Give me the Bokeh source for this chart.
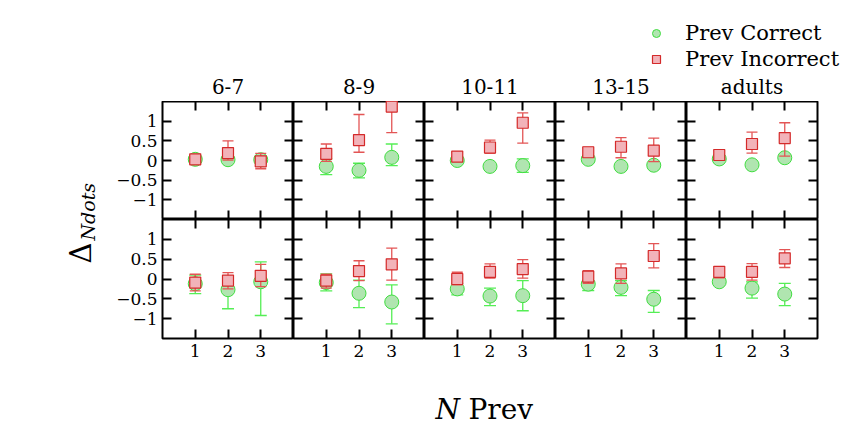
from math import pi
from bokeh.plotting import figure
from bokeh.models import (ColumnDataSource, Whisker, TeeHead, LinearAxis, FixedTicker,
                          Range1d, Label, Legend, LegendItem)
from bokeh.core.properties import value
from bokeh.layouts import row, column, gridplot
from bokeh.embed import file_html
from bokeh.resources import INLINE

groups = ["6-7", "8-9", "10-11", "13-15", "adults"]
n_prev = [1, 2, 3]
y_ticks = [-1, -0.5, 0, 0.5, 1]
y_tick_labels = ["\u22121", "\u22120.5", "0", "0.5", "1"]
series_names = ["Prev Correct", "Prev Incorrect"]

# top row of panels
top_correct = [[0.03, 0.02, 0.02], [-0.15, -0.25, 0.08], [0.0, -0.15, -0.13],
               [0.03, -0.15, -0.12], [0.04, -0.11, 0.07]]
top_correct_lo = [[-0.03, -0.06, -0.06], [-0.36, -0.44, -0.13], [-0.05, -0.2, -0.3],
                  [-0.02, -0.2, -0.17], [-0.01, -0.16, 0.0]]
top_correct_hi = [[0.09, 0.1, 0.1], [0.04, -0.07, 0.42], [0.05, -0.1, 0.04],
                  [0.08, -0.1, -0.07], [0.09, -0.06, 0.14]]
top_incorrect = [[0.03, 0.19, -0.02], [0.17, 0.52, 1.37], [0.1, 0.33, 0.96],
                 [0.21, 0.35, 0.25], [0.14, 0.42, 0.57]]
top_incorrect_lo = [[-0.02, 0.01, -0.21], [-0.02, 0.21, 0.71], [-0.02, 0.18, 0.44],
                    [0.1, 0.07, -0.03], [0.03, 0.19, 0.11]]
top_incorrect_hi = [[0.08, 0.5, 0.18], [0.42, 1.17, 2.0], [0.21, 0.52, 1.21],
                    [0.33, 0.58, 0.57], [0.27, 0.72, 0.96]]

# bottom row of panels
bot_correct = [[-0.12, -0.27, -0.07], [-0.09, -0.36, -0.58], [-0.25, -0.43, -0.42],
               [-0.13, -0.21, -0.51], [-0.07, -0.23, -0.38]]
bot_correct_lo = [[-0.37, -0.75, -0.92], [-0.3, -0.72, -1.13], [-0.4, -0.67, -0.8],
                  [-0.29, -0.42, -0.84], [-0.15, -0.48, -0.67]]
bot_correct_hi = [[0.1, -0.04, 0.43], [0.13, -0.03, -0.15], [-0.11, -0.23, -0.04],
                  [-0.04, -0.04, -0.29], [0.01, -0.07, -0.11]]
bot_incorrect = [[-0.09, -0.04, 0.08], [-0.04, 0.2, 0.37], [0.0, 0.18, 0.25],
                 [0.06, 0.14, 0.58], [0.18, 0.18, 0.52]]
bot_incorrect_lo = [[-0.3, -0.25, -0.19], [-0.23, -0.04, -0.03], [-0.15, 0.02, 0.02],
                    [-0.11, -0.11, 0.28], [0.03, -0.03, 0.29]]
bot_incorrect_hi = [[0.12, 0.16, 0.37], [0.12, 0.46, 0.78], [0.17, 0.38, 0.49],
                    [0.21, 0.38, 0.89], [0.31, 0.39, 0.74]]

FONT = "DejaVu Serif"
GREEN_FILL = "#b0e5b0"
GREEN_EDGE = "#40dd40"
GREEN_BAR = "#55ee55"
RED_FILL = "#f2b3b9"
RED_EDGE = "#d42a2a"
RED_BAR = "#e35555"

PANEL_W = 131
LEFT_W = 100          # y-label strip
TOP_H = 101           # legend + titles strip
BOTTOM_H = 78         # x-label strip

rows_data = [
    (top_correct, top_correct_lo, top_correct_hi, top_incorrect, top_incorrect_lo, top_incorrect_hi),
    (bot_correct, bot_correct_lo, bot_correct_hi, bot_incorrect, bot_incorrect_lo, bot_incorrect_hi),
]


def style_axis(ax, ticks, show_labels, horizontal):
    ax.axis_line_color = None
    ax.major_tick_in = 9
    ax.major_tick_out = 0
    ax.minor_tick_in = 0
    ax.minor_tick_out = 0
    ax.major_tick_line_width = 2
    ax.major_tick_line_color = "black"
    ax.major_label_text_font = FONT
    ax.major_label_text_font_size = "17px"
    ax.major_label_text_color = "black"
    if not show_labels:
        ax.major_label_overrides = {t: "" for t in ticks}
        ax.major_label_standoff = 0
        if horizontal:
            ax.major_label_orientation = "vertical"


grid_rows = []
for ri, (c, clo, chi, inc, ilo, ihi) in enumerate(rows_data):
    figs = []
    for gi, g in enumerate(groups):
        p = figure(frame_width=PANEL_W, frame_height=118 if ri == 0 else 119,
                   x_range=Range1d(0, 4), y_range=Range1d(-1.5, 1.5),
                   x_axis_type=None, y_axis_type=None,
                   toolbar_location=None, output_backend="svg",
                   min_border_left=62 if gi == 0 else 0,
                   min_border_right=39 if gi == 4 else 0,
                   min_border_top=0,
                   min_border_bottom=30 if ri == 1 else 0)
        p.outline_line_color = "black"
        p.outline_line_width = 2
        p.background_fill_color = "white"
        p.border_fill_color = "white"

        for side in ["below", "above"]:
            ax = LinearAxis(ticker=FixedTicker(ticks=n_prev))
            show = side == "below" and ri == 1
            style_axis(ax, n_prev, show, True)
            if show:
                ax.major_label_standoff = 6
            p.add_layout(ax, side)
        for side in ["left", "right"]:
            ax = LinearAxis(ticker=FixedTicker(ticks=y_ticks))
            show = side == "left" and gi == 0
            style_axis(ax, y_ticks, show, False)
            if show:
                ax.major_label_overrides = {t: s for t, s in zip(y_ticks, y_tick_labels)}
                ax.major_label_standoff = 5
            p.add_layout(ax, side)

        src_c = ColumnDataSource(dict(x=n_prev, y=c[gi], lo=clo[gi], hi=chi[gi]))
        src_i = ColumnDataSource(dict(x=n_prev, y=inc[gi], lo=ilo[gi], hi=ihi[gi]))

        wc = Whisker(source=src_c, base="x", lower="lo", upper="hi", dimension="height",
                     line_color=GREEN_BAR, line_width=1.3, level="underlay",
                     upper_head=TeeHead(size=12, line_color=GREEN_BAR, line_width=1.3),
                     lower_head=TeeHead(size=12, line_color=GREEN_BAR, line_width=1.3))
        p.add_layout(wc)
        p.scatter("x", "y", source=src_c, marker="circle", size=14,
                  fill_color=GREEN_FILL, line_color=GREEN_EDGE, line_width=1, level="glyph")
        wi = Whisker(source=src_i, base="x", lower="lo", upper="hi", dimension="height",
                     line_color=RED_BAR, line_width=1.3, level="guide",
                     upper_head=TeeHead(size=11, line_color=RED_BAR, line_width=1.3),
                     lower_head=TeeHead(size=11, line_color=RED_BAR, line_width=1.3))
        p.add_layout(wi)
        p.scatter("x", "y", source=src_i, marker="square", size=11,
                  fill_color=RED_FILL, line_color=RED_EDGE, line_width=1.2, level="annotation")
        figs.append(p)
    grid_rows.append(figs)

grid = gridplot(grid_rows, toolbar_location=None)

# top strip: legend and the panel titles (one per age group, centred over its panel column)
strip_w = 62 + PANEL_W * 5 + 39
x0 = 62 + PANEL_W / 2
lf = figure(width=strip_w, height=TOP_H,
            x_range=Range1d(-x0 / PANEL_W, (strip_w - x0) / PANEL_W),
            y_range=Range1d(0, TOP_H),
            x_axis_type=None, y_axis_type=None, toolbar_location=None,
            output_backend="svg", min_border=0)
lf.outline_line_color = None
lf.grid.visible = False
title_src = ColumnDataSource(dict(x=list(range(len(groups))), y=[15] * len(groups), text=groups))
lf.text(x="x", y="y", text="text", source=title_src, text_font=value(FONT),
        text_font_size="20px", text_align="center", text_baseline="alphabetic",
        text_color="black")
# legend-only renderers (no visible points: NaN positions)
nan = float("nan")
rc = lf.scatter(x=[nan], y=[nan], marker="circle", size=12, fill_color=GREEN_FILL,
                line_color=GREEN_EDGE, line_width=1)
rin = lf.scatter(x=[nan], y=[nan], marker="square", size=9, fill_color=RED_FILL,
                 line_color=RED_EDGE, line_width=1.2)
leg = Legend(items=[LegendItem(label=series_names[0], renderers=[rc]),
                    LegendItem(label=series_names[1], renderers=[rin])],
             location=(546, 30), padding=0, margin=0, spacing=2,
             glyph_width=20, glyph_height=24, label_standoff=19,
             label_text_font=FONT, label_text_font_size="21px", label_text_color="black",
             border_line_color=None, background_fill_alpha=0)
lf.add_layout(leg)

# bottom strip: x-axis label
xl = figure(width=strip_w, height=BOTTOM_H, x_range=Range1d(0, 1), y_range=Range1d(0, 1),
            x_axis_type=None, y_axis_type=None, toolbar_location=None,
            output_backend="svg", min_border=0)
xl.outline_line_color = None
xl.add_layout(Label(x=335, y=37, x_units="screen", y_units="screen", text="N",
                    text_font=FONT, text_font_size="28px", text_font_style="italic",
                    text_color="black", text_align="left", text_baseline="alphabetic"))
xl.add_layout(Label(x=368, y=37, x_units="screen", y_units="screen", text="Prev",
                    text_font=FONT, text_font_size="28px", text_color="black",
                    text_align="left", text_baseline="alphabetic"))

# left strip: y-axis label
yl = figure(width=LEFT_W, height=446, x_range=Range1d(0, 1), y_range=Range1d(0, 1),
            x_axis_type=None, y_axis_type=None, toolbar_location=None,
            output_backend="svg", min_border=0)
yl.outline_line_color = None
yl.add_layout(Label(x=80, y=183, x_units="screen", y_units="screen", text="\u0394",
                    angle=pi / 2, text_font=FONT, text_font_size="29px", text_color="black",
                    text_align="left", text_baseline="alphabetic"))
yl.add_layout(Label(x=87, y=206, x_units="screen", y_units="screen", text="Ndots",
                    angle=pi / 2, text_font=FONT, text_font_size="19px", text_color="black",
                    text_font_style="italic", text_align="left", text_baseline="alphabetic"))

layout = row(yl, column(lf, grid, xl))
open("out.html", "w").write(file_html(layout, INLINE))
